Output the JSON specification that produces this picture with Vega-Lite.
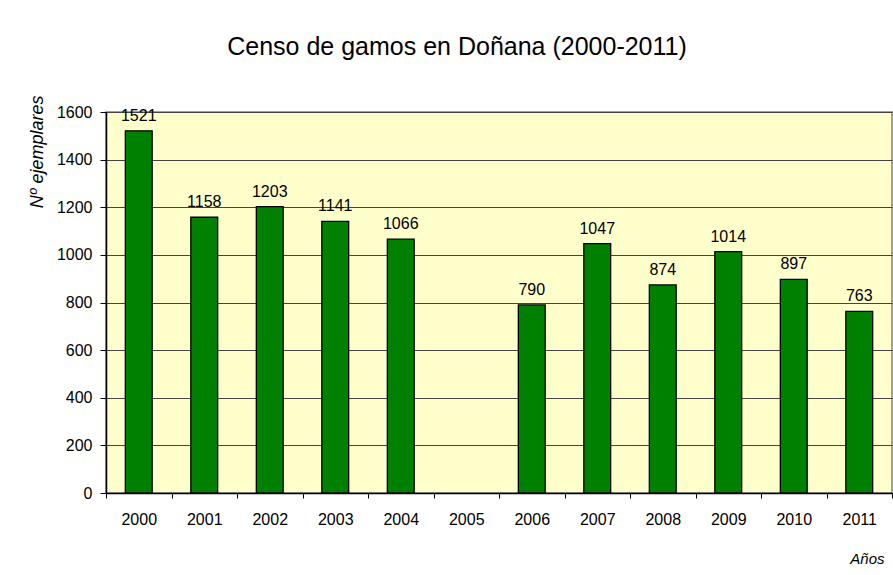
{
  "$schema": "https://vega.github.io/schema/vega-lite/v6.json",
  "width": 786,
  "height": 381,
  "autosize": {"type": "none"},
  "padding": {"left": 106, "top": 112, "right": 1, "bottom": 82},
  "background": "white",
  "title": {
    "text": "Censo de gamos en Doñana (2000-2011)",
    "font": "Liberation Sans",
    "fontSize": 25,
    "fontWeight": "normal",
    "color": "black",
    "anchor": "middle",
    "dx": -42,
    "offset": 35
  },
  "config": {
    "view": {"fill": "#FFFFCC", "stroke": "#808080", "strokeWidth": 1.5},
    "axis": {"labelFont": "Liberation Sans", "titleFont": "Liberation Sans", "labelColor": "black", "titleColor": "black", "domainColor": "black", "tickColor": "black"}
  },
  "data": {
    "values": [
      {"year": "2000", "n": 1521},
      {"year": "2001", "n": 1158},
      {"year": "2002", "n": 1203},
      {"year": "2003", "n": 1141},
      {"year": "2004", "n": 1066},
      {"year": "2005", "n": null},
      {"year": "2006", "n": 790},
      {"year": "2007", "n": 1047},
      {"year": "2008", "n": 874},
      {"year": "2009", "n": 1014},
      {"year": "2010", "n": 897},
      {"year": "2011", "n": 763}
    ]
  },
  "encoding": {
    "x": {
      "field": "year",
      "type": "ordinal",
      "scale": {"domain": ["2000","2001","2002","2003","2004","2005","2006","2007","2008","2009","2010","2011"], "paddingInner": 0, "paddingOuter": 0},
      "axis": {
        "title": "Años",
        "titleFontStyle": "italic",
        "titleFontWeight": "normal",
        "titleFontSize": 15,
        "titleX": 778,
        "titleY": 70,
        "titleAlign": "right",
        "titleBaseline": "alphabetic",
        "labelAngle": 0,
        "labelFontSize": 16,
        "labelPadding": 13,
        "tickBand": "extent",
        "tickSize": 5,
        "domain": true,
        "domainWidth": 1.5
      }
    },
    "y": {
      "field": "n",
      "type": "quantitative",
      "scale": {"domain": [0, 1600], "nice": false},
      "axis": {
        "title": "Nº ejemplares",
        "titleFontStyle": "italic",
        "titleFontWeight": "normal",
        "titleFontSize": 18,
        "titleX": -64,
        "titleY": -17,
        "titleAngle": 270,
        "titleAlign": "right",
        "titleBaseline": "alphabetic",
        "values": [0,200,400,600,800,1000,1200,1400,1600],
        "format": "d",
        "labelFontSize": 16,
        "labelPadding": 8,
        "tickSize": 6,
        "grid": true,
        "gridColor": "#444444",
        "gridWidth": 1,
        "domainWidth": 1.5
      }
    }
  },
  "layer": [
    {
      "mark": {"type": "bar", "fill": "#008000", "stroke": "black", "strokeWidth": 1.3, "width": {"band": 0.41}}
    },
    {
      "mark": {"type": "text", "font": "Liberation Sans", "fontSize": 16, "baseline": "alphabetic", "dy": -10, "color": "black"},
      "encoding": {"text": {"field": "n", "type": "quantitative", "format": "d"}}
    }
  ]
}
